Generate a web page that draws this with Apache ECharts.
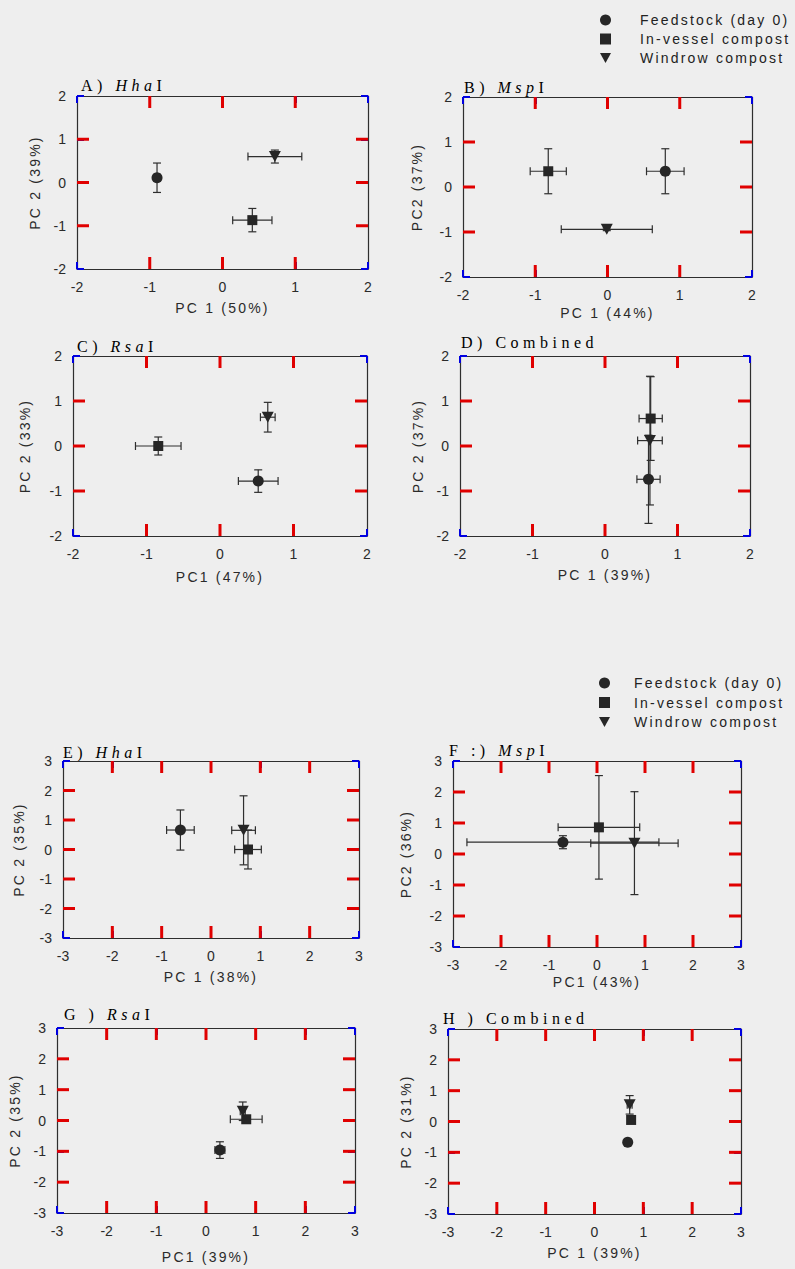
<!DOCTYPE html>
<html><head><meta charset="utf-8">
<style>
html,body{margin:0;padding:0;background:#eeeeee;}
#c{width:795px;height:1269px;}
#c text[style*="Liberation Sans"]{letter-spacing:2.2px;}
#c text[style*="Liberation Serif"]{letter-spacing:4.5px;}
</style>
<script src="https://cdn.jsdelivr.net/npm/echarts@6/dist/echarts.min.js"></script>
</head><body><div id="c"></div>
<script>
// ---------- data ----------
const groups = ['Feedstock (day 0)', 'In-vessel compost', 'Windrow compost'];
const ticksTop = [-2, -1, 0, 1, 2];            // panels A-D
const ticksBottom = [-3, -2, -1, 0, 1, 2, 3];  // panels E-H
const tickStep = 1;

// order in each array: Feedstock, In-vessel, Windrow
const A_pc1 = [-0.90, 0.41, 0.72];
const A_pc2 = [0.11, -0.87, 0.60];
const A_pc1Err = [0.04, 0.27, 0.37];
const A_pc2Err = [0.34, 0.27, 0.15];

const B_pc1 = [0.80, -0.82, -0.01];
const B_pc2 = [0.35, 0.35, -0.94];
const B_pc1Err = [0.26, 0.25, 0.63];
const B_pc2Err = [0.50, 0.50, 0.03];

const C_pc1 = [0.52, -0.84, 0.65];
const C_pc2 = [-0.78, 0.00, 0.64];
const C_pc1Err = [0.27, 0.31, 0.10];
const C_pc2Err = [0.25, 0.20, 0.33];

const D_pc1 = [0.60, 0.63, 0.62];
const D_pc2 = [-0.74, 0.61, 0.12];
const D_pc1Err = [0.16, 0.16, 0.17];
const D_pc2Err = [0.98, 0.93, 1.43];

const E_pc1 = [-0.62, 0.75, 0.66];
const E_pc2 = [0.66, 0.00, 0.65];
const E_pc1Err = [0.28, 0.27, 0.24];
const E_pc2Err = [0.68, 0.66, 1.17];

const F_pc1 = [-0.71, 0.04, 0.78];
const F_pc2 = [0.38, 0.86, 0.35];
const F_pc1Err = [2.00, 0.85, 0.91];
const F_pc2Err = [0.21, 1.67, 1.66];

const G_pc1 = [0.28, 0.81, 0.74];
const G_pc2 = [-0.96, 0.04, 0.30];
const G_pc1Err = [0.10, 0.32, 0.05];
const G_pc2Err = [0.27, 0.08, 0.30];

const H_pc1 = [0.68, 0.75, 0.72];
const H_pc2 = [-0.67, 0.05, 0.54];
const H_pc1Err = [0.06, 0.05, 0.05];
const H_pc2Err = [0.08, 0.06, 0.30];

const xNames = ['PC 1 (50%)', 'PC 1 (44%)', 'PC1 (47%)', 'PC 1 (39%)', 'PC 1 (38%)', 'PC1 (43%)', 'PC1 (39%)', 'PC 1 (39%)'];
const yNames = ['PC 2 (39%)', 'PC2 (37%)', 'PC 2 (33%)', 'PC 2 (37%)', 'PC 2 (35%)', 'PC2 (36%)', 'PC 2 (35%)', 'PC 2 (31%)'];
const titleParts = [
  ['A) ', 'Hha', 'I'], ['B) ', 'Msp', 'I'], ['C) ', 'Rsa', 'I'], ['D) Combined', '', ''],
  ['E) ', 'Hha', 'I'], ['F :) ', 'Msp', 'I'], ['G ) ', 'Rsa', 'I'], ['H ) Combined', '', '']
];

// ---------- layout ----------
const panels = [
  {d:[A_pc1,A_pc2,A_pc1Err,A_pc2Err], t_:ticksTop,    g:[77, 96, 291, 173],  xg:32, yg:35, t:[81, 93]},
  {d:[B_pc1,B_pc2,B_pc1Err,B_pc2Err], t_:ticksTop,    g:[463, 97, 289, 180], xg:29, yg:39, t:[464, 95]},
  {d:[C_pc1,C_pc2,C_pc1Err,C_pc2Err], t_:ticksTop,    g:[73, 356, 294, 180], xg:34, yg:41, t:[77, 354]},
  {d:[D_pc1,D_pc2,D_pc1Err,D_pc2Err], t_:ticksTop,    g:[460, 356, 290, 180],xg:32, yg:35, t:[461, 350]},
  {d:[E_pc1,E_pc2,E_pc1Err,E_pc2Err], t_:ticksBottom, g:[63, 761, 296, 177], xg:32, yg:37, t:[63, 760]},
  {d:[F_pc1,F_pc2,F_pc1Err,F_pc2Err], t_:ticksBottom, g:[453, 761, 288, 186],xg:28, yg:40, t:[449, 758]},
  {d:[G_pc1,G_pc2,G_pc1Err,G_pc2Err], t_:ticksBottom, g:[57, 1028, 298, 185],xg:37, yg:35, t:[64, 1022]},
  {d:[H_pc1,H_pc2,H_pc1Err,H_pc2Err], t_:ticksBottom, g:[448, 1029, 293, 185],xg:32, yg:35, t:[443, 1026]}
];

const INK = '#262626';
const AXIS = '#2e2e2e';
const TICKC = '#e00000';
const symbols = ['circle', 'rect', 'path://M0,0L10,0L5,9Z'];
const symbolSizes = [11, 10, [12, 11]];
const LS = 4.5; // serif title letter spacing (css)
const TICK = 12;

function renderErr(params, api) {
  const x = api.value(0), y = api.value(1), xe = api.value(2), ye = api.value(3);
  const st = {stroke: AXIS, lineWidth: 1.2};
  const cap = 4, ch = [];
  if (xe > 0) {
    const l = api.coord([x - xe, y]), r = api.coord([x + xe, y]);
    ch.push({type:'line', shape:{x1:l[0], y1:l[1], x2:r[0], y2:r[1]}, style:st});
    ch.push({type:'line', shape:{x1:l[0], y1:l[1]-cap, x2:l[0], y2:l[1]+cap}, style:st});
    ch.push({type:'line', shape:{x1:r[0], y1:r[1]-cap, x2:r[0], y2:r[1]+cap}, style:st});
  }
  if (ye > 0) {
    const t = api.coord([x, y + ye]), b = api.coord([x, y - ye]);
    ch.push({type:'line', shape:{x1:t[0], y1:t[1], x2:b[0], y2:b[1]}, style:st});
    ch.push({type:'line', shape:{x1:t[0]-cap, y1:t[1], x2:t[0]+cap, y2:t[1]}, style:st});
    ch.push({type:'line', shape:{x1:b[0]-cap, y1:b[1], x2:b[0]+cap, y2:b[1]}, style:st});
  }
  return {type:'group', children: ch};
}

// inward ticks on all four sides of the frame (tick value v, axis min lo, axis max hi)
function renderTicks(params, api) {
  const v = api.value(0), lo = api.value(1), hi = api.value(2);
  const st = {stroke: TICKC, lineWidth: 3};
  const b = api.coord([v, lo]), t = api.coord([v, hi]);
  const l = api.coord([lo, v]), r = api.coord([hi, v]);
  return {type: 'group', children: [
    {type:'line', shape:{x1:b[0], y1:b[1], x2:b[0], y2:b[1]-TICK}, style:st},
    {type:'line', shape:{x1:t[0], y1:t[1], x2:t[0], y2:t[1]+TICK}, style:st},
    {type:'line', shape:{x1:l[0], y1:l[1], x2:l[0]+TICK, y2:l[1]}, style:st},
    {type:'line', shape:{x1:r[0], y1:r[1], x2:r[0]-TICK, y2:r[1]}, style:st}
  ]};
}

const grid = [], xAxis = [], yAxis = [], series = [], graphic = [];
panels.forEach((p, i) => {
  const lo = p.t_[0], hi = p.t_[p.t_.length - 1];
  grid.push({left: p.g[0], top: p.g[1], width: p.g[2], height: p.g[3], containLabel: false, show: false});
  const mk = (extra) => Object.assign({
    type: 'value', gridIndex: i, min: lo, max: hi, interval: tickStep,
    splitLine: {show: false},
    axisLine: {show: true, onZero: false, lineStyle: {color: AXIS, width: 1.2}},
    axisTick: {show: true, inside: true, length: 7, lineStyle: {color: '#0000e0', width: 2}}
  }, extra);
  xAxis.push(mk({position: 'bottom', name: xNames[i], nameLocation: 'middle',
    nameGap: p.xg, nameTextStyle: {fontFamily: 'Liberation Sans', fontSize: 14, color: '#2a2a2a'},
    axisLabel: {show: true, margin: 11, fontFamily: 'Arial', fontSize: 14, color: '#2a2a2a'}}));
  xAxis.push(mk({position: 'top', axisLabel: {show: false}}));
  yAxis.push(mk({position: 'left', name: yNames[i], nameLocation: 'middle',
    nameGap: p.yg, nameTextStyle: {fontFamily: 'Liberation Sans', fontSize: 14, color: '#2a2a2a'},
    axisLabel: {show: true, margin: 11, fontFamily: 'Arial', fontSize: 14, color: '#2a2a2a'}}));
  yAxis.push(mk({position: 'right', axisLabel: {show: false}}));
  series.push({type: 'custom', xAxisIndex: 2*i, yAxisIndex: 2*i, silent: true, z: 4, clip: false,
    renderItem: renderTicks, encode: {x: 0, y: 1},
    data: p.t_.filter(v => v !== lo && v !== hi).map(v => [v, lo, hi])});
  const [px, py, pxe, pye] = p.d;
  for (let j = 0; j < 3; j++) {
    series.push({type: 'custom', xAxisIndex: 2*i, yAxisIndex: 2*i, silent: true, z: 2,
      renderItem: renderErr, encode: {x: 0, y: 1}, data: [[px[j], py[j], pxe[j], pye[j]]]});
    series.push({type: 'scatter', name: groups[j], xAxisIndex: 2*i, yAxisIndex: 2*i, z: 3,
      symbol: symbols[j], symbolSize: symbolSizes[j], itemStyle: {color: INK, opacity: 1},
      emphasis: {disabled: true}, data: [[px[j], py[j]]]});
  }
  const parts = titleParts[i];
  const rich = {};
  let text = '';
  parts.forEach((s, k) => {
    if (!s) return;
    rich['s' + k] = {fontFamily: 'Liberation Serif', fontSize: 16, color: '#1e1e1e',
      fontStyle: k === 1 ? 'italic' : 'normal', padding: [0, s.length * LS, 0, 0]};
    text += '{s' + k + '|' + s + '}';
  });
  graphic.push({type: 'text', x: p.t[0], y: p.t[1], silent: true,
    style: {text, rich, align: 'left', verticalAlign: 'bottom'}});
});

const legendBase = {orient: 'vertical', data: groups, itemWidth: 11, itemHeight: 11, selectedMode: false,
  textStyle: {fontFamily: 'Liberation Sans', fontSize: 14, color: '#222', lineHeight: 14}};
const legend = [
  Object.assign({}, legendBase, {left: 595, top: 8, itemGap: 5,
    textStyle: Object.assign({}, legendBase.textStyle, {padding: [0, 0, 0, 24]})}),
  Object.assign({}, legendBase, {left: 594, top: 671, itemGap: 5.5,
    textStyle: Object.assign({}, legendBase.textStyle, {padding: [0, 0, 0, 19]})})
];

const chart = echarts.init(document.getElementById('c'), null, {renderer: 'svg'});
chart.setOption({
  backgroundColor: '#eeeeee',
  animation: false,
  tooltip: {show: false},
  legend, grid, xAxis, yAxis, series, graphic
});
</script></body></html>
